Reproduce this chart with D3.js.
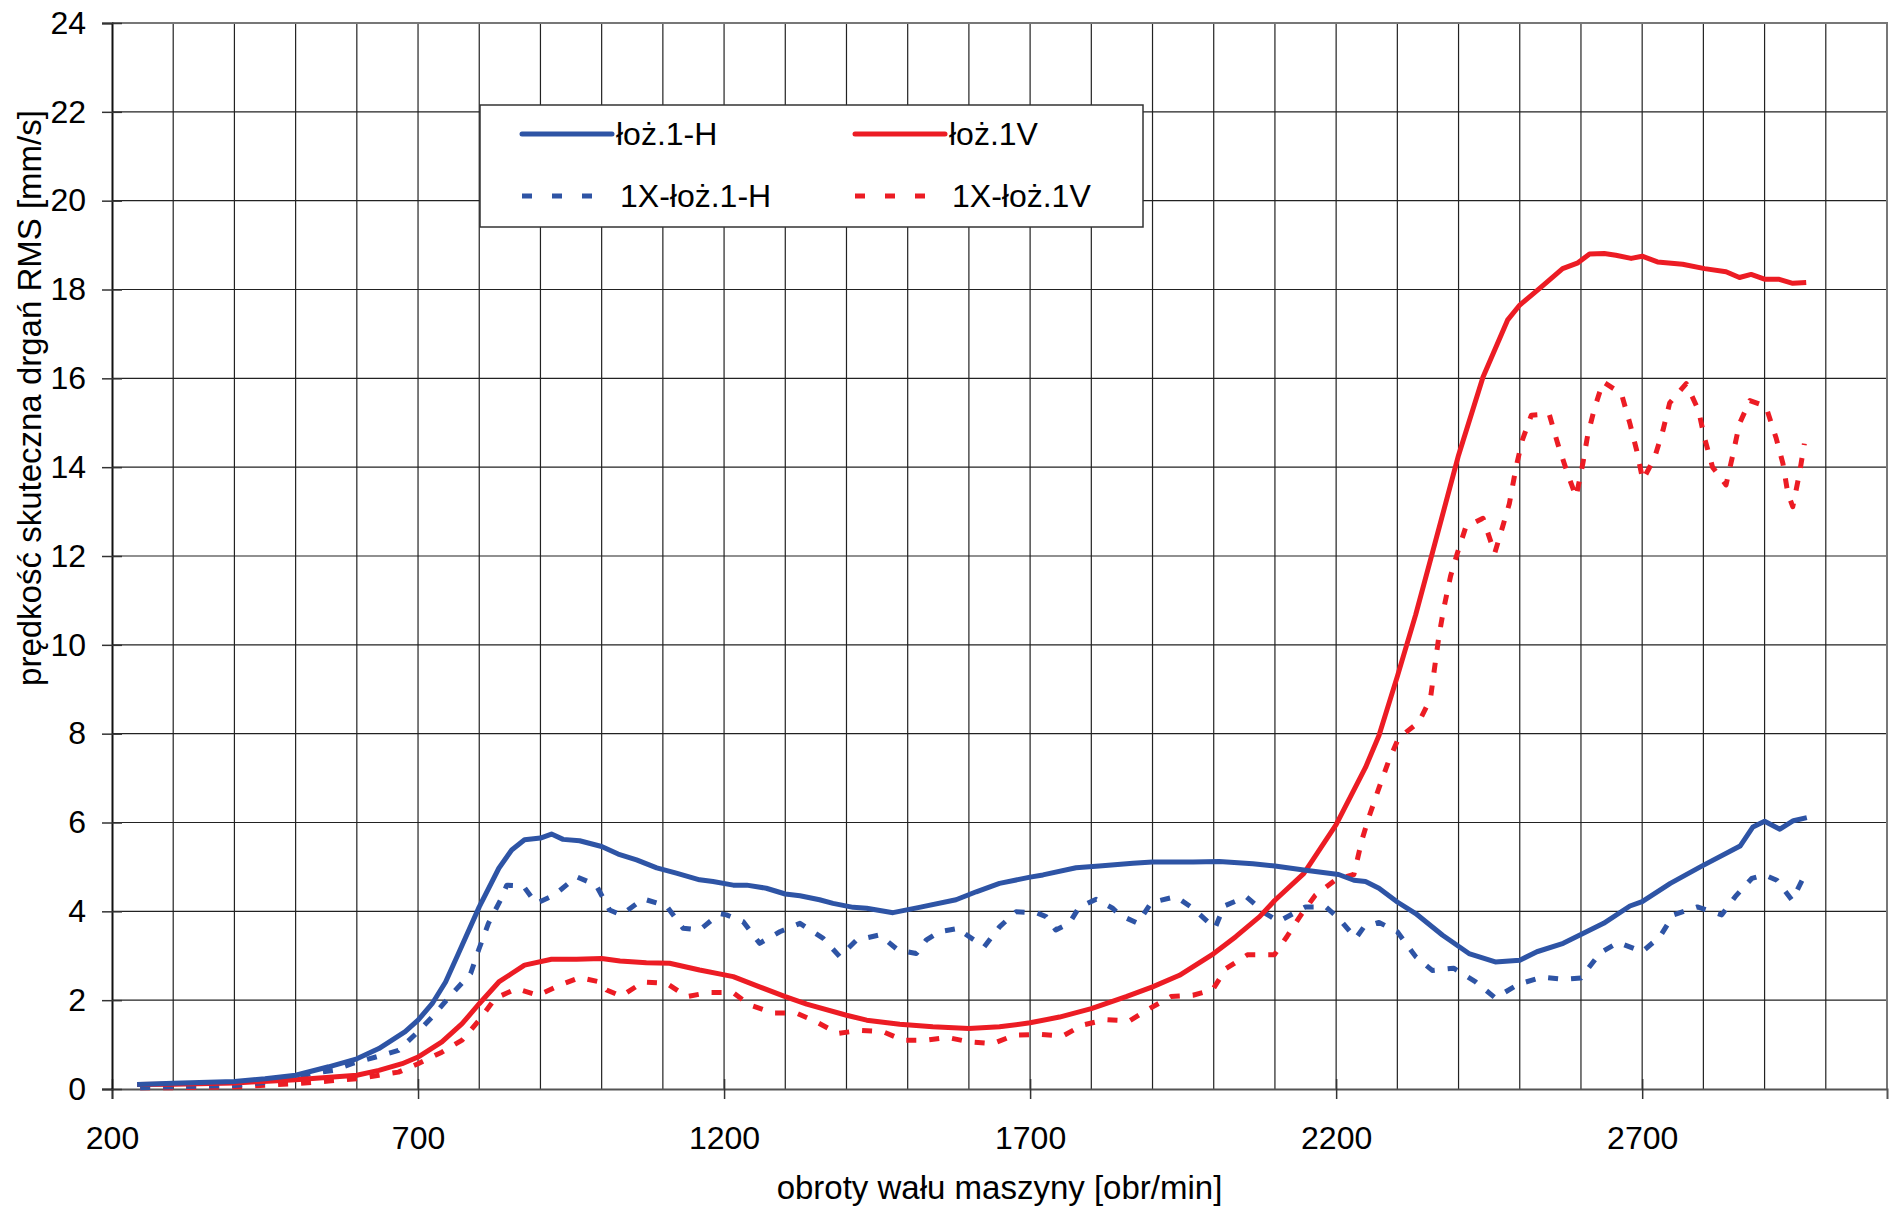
<!DOCTYPE html>
<html>
<head>
<meta charset="utf-8">
<script src="https://d3js.org/d3.v7.min.js"></script>
<style>
  body { margin: 0; background: #fff; }
  text { font-family: "Liberation Sans", Arial, sans-serif; fill: #000; }
</style>
</head>
<body>
<div id="container"></div>
<script>
// łoż.1-H (solid blue)
var rpmH = [241,300,400,450,500,554,600,636,679,700,723,745,766,800,832,853,874,900,918,937,964,1000,1027,1057,1090,1122,1160,1182,1215,1237,1269,1300,1324,1356,1378,1411,1433,1476,1519,1579,1612,1650,1700,1721,1775,1813,1868,1900,1966,2009,2064,2100,2147,2204,2229,2248,2270,2300,2330,2374,2417,2460,2500,2528,2571,2637,2680,2700,2746,2795,2860,2881,2900,2925,2947,2969];
var valH = [0.1,0.13,0.17,0.23,0.31,0.5,0.68,0.91,1.29,1.55,1.92,2.41,3.05,4.1,4.97,5.38,5.61,5.65,5.74,5.62,5.59,5.46,5.29,5.16,4.98,4.86,4.71,4.67,4.59,4.59,4.52,4.39,4.35,4.26,4.18,4.09,4.07,3.97,4.09,4.26,4.44,4.63,4.77,4.82,4.98,5.02,5.08,5.11,5.11,5.12,5.07,5.02,4.93,4.83,4.7,4.67,4.52,4.21,3.95,3.46,3.05,2.86,2.9,3.09,3.28,3.73,4.12,4.22,4.63,5.0,5.47,5.9,6.03,5.85,6.04,6.11];

// 1X-łoż.1-H (dashed blue)
var rpm1XH = [246,300,400,461,500,527,562,592,636,668,700,723,756,786,799,815,835,845,872,893,923,959,991,1013,1032,1043,1068,1106,1133,1160,1193,1204,1231,1258,1291,1324,1362,1389,1416,1454,1484,1514,1530,1552,1585,1593,1625,1650,1677,1710,1726,1742,1764,1780,1808,1835,1846,1876,1898,1938,1966,2002,2017,2053,2085,2106,2150,2183,2204,2232,2245,2270,2300,2330,2357,2392,2428,2460,2498,2537,2571,2600,2631,2661,2700,2729,2751,2790,2830,2852,2879,2900,2920,2945,2967];
var val1XH = [0.03,0.05,0.08,0.16,0.26,0.35,0.42,0.57,0.74,0.87,1.29,1.62,2.15,2.6,3.13,3.73,4.26,4.59,4.57,4.18,4.37,4.78,4.59,4.03,3.92,4.03,4.28,4.12,3.62,3.58,3.95,3.92,3.77,3.28,3.54,3.73,3.39,2.98,3.35,3.47,3.13,3.05,3.35,3.54,3.62,3.5,3.2,3.65,3.99,3.97,3.88,3.58,3.73,4.09,4.27,4.07,3.92,3.73,4.2,4.33,4.07,3.62,4.12,4.33,3.95,3.77,4.1,4.1,3.85,3.39,3.64,3.75,3.54,2.98,2.67,2.72,2.41,2.05,2.36,2.52,2.47,2.5,3.06,3.3,3.09,3.43,3.92,4.1,3.92,4.33,4.74,4.82,4.7,4.25,4.86];

// łoż.1V (solid red)
var rpmV = [241,300,400,500,600,636,674,700,739,772,800,832,853,874,918,959,1000,1030,1073,1111,1160,1215,1258,1300,1335,1400,1433,1487,1541,1600,1650,1700,1748,1800,1857,1900,1944,2000,2036,2075,2100,2147,2200,2248,2270,2300,2330,2357,2379,2400,2440,2480,2500,2532,2570,2595,2614,2638,2657,2682,2700,2725,2766,2802,2837,2859,2878,2901,2924,2946,2968];
var valV = [0.1,0.105,0.135,0.21,0.31,0.42,0.57,0.72,1.06,1.47,1.92,2.41,2.6,2.79,2.92,2.92,2.94,2.88,2.84,2.83,2.68,2.53,2.3,2.08,1.91,1.66,1.55,1.46,1.4,1.36,1.4,1.49,1.62,1.81,2.08,2.3,2.56,3.05,3.43,3.88,4.25,4.85,5.95,7.24,7.96,9.29,10.68,12.06,13.19,14.27,16.03,17.31,17.65,18.02,18.47,18.6,18.8,18.81,18.77,18.7,18.75,18.62,18.57,18.47,18.4,18.27,18.34,18.23,18.23,18.14,18.16];

// 1X-łoż.1V (dashed red)
var rpm1XV = [246,300,400,500,554,600,636,668,700,739,772,800,826,861,896,932,964,997,1008,1032,1068,1106,1139,1174,1215,1242,1280,1318,1351,1386,1422,1460,1492,1530,1565,1601,1639,1674,1715,1753,1786,1824,1862,1895,1930,1966,1998,2020,2055,2099,2120,2144,2166,2200,2229,2242,2253,2270,2286,2302,2335,2354,2362,2368,2376,2387,2398,2412,2440,2459,2472,2483,2494,2504,2519,2548,2562,2578,2592,2603,2611,2622,2636,2666,2680,2691,2701,2720,2734,2745,2772,2792,2802,2815,2837,2848,2859,2876,2902,2919,2930,2938,2946,2957,2965];
var val1XV = [0.03,0.03,0.05,0.12,0.18,0.23,0.31,0.38,0.57,0.83,1.1,1.55,2.04,2.26,2.11,2.34,2.51,2.41,2.23,2.09,2.41,2.38,2.08,2.17,2.17,1.89,1.71,1.71,1.51,1.25,1.32,1.29,1.1,1.1,1.16,1.06,1.02,1.21,1.23,1.19,1.44,1.56,1.53,1.81,2.08,2.11,2.23,2.71,3.02,3.02,3.44,3.95,4.36,4.72,4.83,5.6,6.1,6.78,7.39,7.9,8.26,8.78,9.6,10.2,10.83,11.55,12.06,12.66,12.85,12.06,12.66,13.18,14.0,14.6,15.17,15.2,14.53,13.86,13.33,14.08,14.72,15.32,15.92,15.66,14.98,14.38,13.71,14.2,14.83,15.45,15.88,15.28,14.65,14.0,13.6,14.27,14.98,15.5,15.37,14.65,14.08,13.41,13.11,13.86,14.53];

var xTicks = [200, 700, 1200, 1700, 2200, 2700];
var yTicks = d3.range(0, 25, 2);

var blue = "#2E54A5", red = "#EC1C24";

var series = [
  {name: "łoż.1-H", rpm: rpmH, val: valH, color: blue, dash: null},
  {name: "łoż.1V", rpm: rpmV, val: valV, color: red, dash: null},
  {name: "1X-łoż.1-H", rpm: rpm1XH, val: val1XH, color: blue, dash: "10,13"},
  {name: "1X-łoż.1V", rpm: rpm1XV, val: val1XV, color: red, dash: "10,13"}
];

var width = 1890, height = 1213;
var mLeft = 112, mRight = 1887, mTop = 23, mBottom = 1089;

var svg = d3.select("#container").append("svg")
  .attr("width", width)
  .attr("height", height);

var x = d3.scaleLinear().domain([200, 3100]).range([mLeft, mRight]);
var y = d3.scaleLinear().domain([0, 24]).range([mBottom, mTop]);

// grid
var grid = svg.append("g").attr("stroke", "#222").attr("stroke-width", 1.2);
grid.selectAll("line.v")
  .data(d3.range(300, 3100, 100))
  .join("line")
    .attr("class", "v")
    .attr("x1", d => x(d)).attr("x2", d => x(d))
    .attr("y1", mTop).attr("y2", mBottom);
grid.selectAll("line.h")
  .data(d3.range(2, 24, 2))
  .join("line")
    .attr("class", "h")
    .attr("x1", mLeft).attr("x2", mRight)
    .attr("y1", d => y(d)).attr("y2", d => y(d));

// frame top/right
svg.append("path")
  .attr("d", `M${mLeft},${mTop}H${mRight}V${mBottom}`)
  .attr("fill", "none")
  .attr("stroke", "#777")
  .attr("stroke-width", 2);

// axes
var xAxis = svg.append("g")
  .attr("transform", `translate(0,${mBottom})`)
  .call(d3.axisBottom(x).tickValues(xTicks).tickSize(10).tickPadding(27).tickFormat(d3.format("d")));
xAxis.select(".domain").attr("stroke", "#555").attr("stroke-width", 2);
xAxis.selectAll(".tick line").attr("y1", -10).attr("stroke", "#333").attr("stroke-width", 1.5);
xAxis.selectAll("text").attr("font-size", 32).attr("font-family", "Liberation Sans, Arial, sans-serif");

var yAxis = svg.append("g")
  .attr("transform", `translate(${mLeft},0)`)
  .call(d3.axisLeft(y).tickValues(yTicks).tickSize(10).tickPadding(16));
yAxis.select(".domain").attr("stroke", "#111").attr("stroke-width", 2);
yAxis.selectAll(".tick line").attr("x1", 10).attr("stroke", "#333").attr("stroke-width", 1.5);
yAxis.selectAll("text").attr("font-size", 32).attr("font-family", "Liberation Sans, Arial, sans-serif");

// lines
var line = d3.line()
  .x(d => x(d[0]))
  .y(d => y(d[1]));

svg.append("g")
  .selectAll("path")
  .data(series.slice().reverse())
  .join("path")
    .attr("d", d => line(d3.zip(d.rpm, d.val)))
    .attr("fill", "none")
    .attr("stroke", d => d.color)
    .attr("stroke-width", 5)
    .attr("stroke-linejoin", "round")
    .attr("stroke-dasharray", d => d.dash);

// axis titles
svg.append("text")
  .attr("x", (mLeft + mRight) / 2)
  .attr("y", 1199)
  .attr("text-anchor", "middle")
  .attr("font-size", 33)
  .text("obroty wału maszyny [obr/min]");

svg.append("text")
  .attr("transform", "translate(41,398) rotate(-90)")
  .attr("text-anchor", "middle")
  .attr("font-size", 33)
  .text("prędkość skuteczna drgań RMS [mm/s]");

// legend
var legend = svg.append("g");
legend.append("rect")
  .attr("x", 480).attr("y", 105)
  .attr("width", 663).attr("height", 122)
  .attr("fill", "#fff")
  .attr("stroke", "#333")
  .attr("stroke-width", 1.5);

var legPos = [
  {lx: 522, ty: 134, tx: 616},
  {lx: 855, ty: 134, tx: 949},
  {lx: 522, ty: 196, tx: 620},
  {lx: 855, ty: 196, tx: 952}
];

var items = legend.selectAll("g.item")
  .data(series)
  .join("g")
    .attr("class", "item");

items.append("line")
  .attr("x1", (d, i) => legPos[i].lx)
  .attr("x2", (d, i) => legPos[i].lx + (d.dash ? 80 : 90))
  .attr("y1", (d, i) => legPos[i].ty)
  .attr("y2", (d, i) => legPos[i].ty)
  .attr("stroke", d => d.color)
  .attr("stroke-width", 5)
  .attr("stroke-linecap", d => d.dash ? "butt" : "round")
  .attr("stroke-dasharray", d => d.dash ? "10,20" : null);

items.append("text")
  .attr("x", (d, i) => legPos[i].tx)
  .attr("y", (d, i) => legPos[i].ty + 11)
  .attr("font-size", 32)
  .text(d => d.name);
</script>
</body>
</html>
